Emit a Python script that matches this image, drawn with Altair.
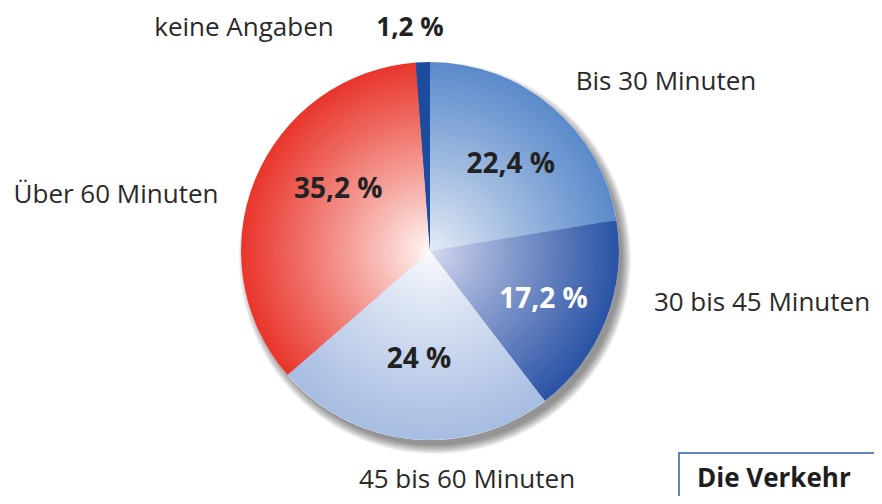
import math
import altair as alt
import pandas as pd

# ---- data ----
categories = ["Bis 30 Minuten", "30 bis 45 Minuten", "45 bis 60 Minuten", "Über 60 Minuten", "keine Angaben"]
values = [22.4, 17.2, 24.0, 35.2, 1.2]
pct_labels = ["22,4 %", "17,2 %", "24 %", "35,2 %", "1,2 %"]

# ---- styles ----
edge_colors = ["#5a8acb", "#2a53a5", "#a7bce2", "#e8352b", "#1b4c9e"]
center_colors = ["#e8edf7", "#d8dbf0", "#f9fafd", "#fffbf8", "#1b4c9e"]

W, H = 866, 488
CX, CY = 422, 243
R = 189
N_RINGS = 45
FONT = "Open Sans"

df = pd.DataFrame({"cat": categories, "value": values, "pct": pct_labels,
                   "idx": list(range(len(categories)))})

theta_scale = alt.Scale(domain=[0, 100])


def hex2rgb(h):
    h = h.lstrip("#")
    return tuple(int(h[i:i + 2], 16) for i in (0, 2, 4))


def mix(c1, c2, f):
    a, b = hex2rgb(c1), hex2rgb(c2)
    return "#%02x%02x%02x" % tuple(round(a[i] + (b[i] - a[i]) * f) for i in range(3))


one = pd.DataFrame({"a": [0]})
layers = []

# shadow (soft, offset to lower right)
for k in range(9, -1, -1):
    layers.append(
        alt.Chart(one).mark_arc(radius=R + k - 2, theta=0, theta2=2 * math.pi,
                                color="#000000", opacity=0.05)
        .encode(x=alt.value(CX + 5), y=alt.value(CY + 7))
    )

# white base disc
layers.append(
    alt.Chart(one).mark_arc(radius=R, theta=0, theta2=2 * math.pi, color="#ffffff")
    .encode(x=alt.value(CX), y=alt.value(CY))
)

# radial gradient pie as concentric stacked discs
for k in range(N_RINGS):
    r = R * (N_RINGS - k) / N_RINGS
    t = (N_RINGS - k - 0.5) / N_RINGS
    f = t ** 0.9
    d = df.copy()
    d["col"] = [mix(c0, c1, f) for c0, c1 in zip(center_colors, edge_colors)]
    layers.append(
        alt.Chart(d).mark_arc(radius=r)
        .encode(
            theta=alt.Theta("value:Q", stack=True, scale=theta_scale),
            order=alt.Order("idx:Q"),
            color=alt.Color("col:N", scale=None),
            x=alt.value(CX), y=alt.value(CY),
        )
    )

# percentage labels inside slices
inner = {
    "Bis 30 Minuten": dict(r=120, dx=3, dy=5, color="#222222"),
    "30 bis 45 Minuten": dict(r=122, dx=0, dy=4, color="#ffffff"),
    "45 bis 60 Minuten": dict(r=110, dx=0, dy=0, color="#222222"),
    "Über 60 Minuten": dict(r=110, dx=10, dy=-19, color="#222222"),
}
base = (alt.Chart(df)
        .transform_stack(stack="value", groupby=[], as_=["s0", "s1"],
                         sort=[alt.SortField("idx", order="ascending")])
        .transform_calculate(mid="(datum.s0 + datum.s1) / 2"))
for cat, st in inner.items():
    layers.append(
        base.transform_filter(alt.datum.cat == cat)
        .mark_text(radius=st["r"], dx=st["dx"], dy=st["dy"], font=FONT, fontSize=28,
                   fontWeight="bold", color=st["color"])
        .encode(theta=alt.Theta("mid:Q", scale=theta_scale), text="pct:N",
                x=alt.value(CX), y=alt.value(CY))
    )

# outer category labels (page coords minus 8px margin)
outer = {
    "Bis 30 Minuten": (658, 82),
    "30 bis 45 Minuten": (754, 303),
    "45 bis 60 Minuten": (459, 480),
    "Über 60 Minuten": (108, 195),
    "keine Angaben": (236, 28),
}
for cat, (x, y) in outer.items():
    layers.append(
        alt.Chart(df).transform_filter(alt.datum.cat == cat)
        .mark_text(font=FONT, fontSize=26, color="#2a2a2a", align="center", baseline="alphabetic")
        .encode(text="cat:N", x=alt.value(x), y=alt.value(y))
    )
layers.append(
    alt.Chart(df).transform_filter(alt.datum.cat == "keine Angaben")
    .mark_text(font=FONT, fontSize=26, fontWeight="bold", color="#222222", align="center",
               baseline="alphabetic")
    .encode(text="pct:N", x=alt.value(402), y=alt.value(28))
)

# box at bottom right (continues beyond the picture)
layers.append(
    alt.Chart(one).mark_rect(fill="#ffffff", stroke="#2d5fae", strokeWidth=1.5)
    .encode(x=alt.value(671), x2=alt.value(920), y=alt.value(445), y2=alt.value(540))
)
layers.append(
    alt.Chart(one).mark_text(text="Die Verkehr", font=FONT, fontSize=26, fontWeight="bold",
                             color="#1e1e1e", align="left", baseline="alphabetic")
    .encode(x=alt.value(689), y=alt.value(479))
)

chart = (alt.layer(*layers)
         .properties(width=W, height=H, autosize=alt.AutoSizeParams(type="none"), padding=0)
         .configure_view(stroke=None))

chart.save("out.html", embed_options={"renderer": "svg", "actions": False})
